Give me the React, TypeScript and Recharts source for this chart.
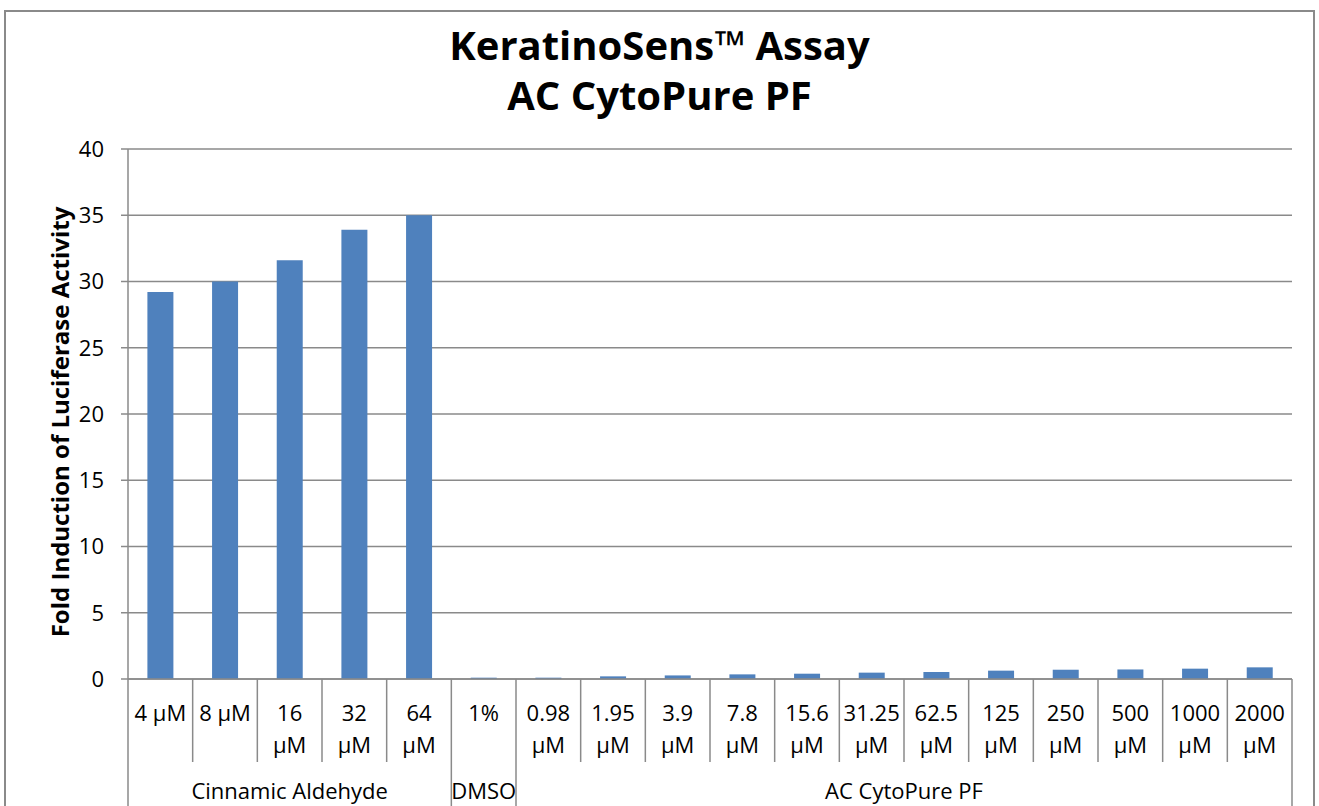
import React from 'react'
import { BarChart, Bar, XAxis, YAxis, CartesianGrid } from 'recharts'

const categories = [
  '4 µM', '8 µM', '16 µM', '32 µM', '64 µM',
  '1%',
  '0.98 µM', '1.95 µM', '3.9 µM', '7.8 µM', '15.6 µM', '31.25 µM',
  '62.5 µM', '125 µM', '250 µM', '500 µM', '1000 µM', '2000 µM',
]
const foldInduction = [
  29.2, 30.0, 31.6, 33.9, 35.0,
  0.1,
  0.1, 0.2, 0.27, 0.35, 0.4, 0.48,
  0.53, 0.63, 0.7, 0.72, 0.78, 0.88,
]
const groupNames = ['Cinnamic Aldehyde', 'DMSO', 'AC CytoPure PF']
const groupSizes = [5, 1, 12]
const yTicks = [0, 5, 10, 15, 20, 25, 30, 35, 40]

const data = categories.map((name, i) => ({ name, value: foldInduction[i] }))

const FONT = '"Open Sans", sans-serif'
const GRAY = '#8a8a8a'

// group start indexes
const groupStarts: number[] = []
groupSizes.reduce((acc, n) => {
  groupStarts.push(acc)
  return acc + n
}, 0)

function CategoryTick(props: any) {
  const { x, y, payload, index, width } = props
  const band = payload && payload.offset ? payload.offset * 2 : width / categories.length
  const left = x - band / 2
  const label: string = payload.value
  const lines = label.length > 4 ? label.split(' ') : [label]
  const gi = groupStarts.indexOf(index)
  const isLast = index === categories.length - 1
  return (
    <g>
      <line x1={left} x2={left} y1={y} y2={gi >= 0 ? y + 140 : y + 83} stroke={GRAY} strokeWidth={1.5} />
      {isLast && <line x1={left + band} x2={left + band} y1={y} y2={y + 140} stroke={GRAY} strokeWidth={1.5} />}
      {lines.map((t, k) => (
        <text key={k} x={x} y={y + 42 + k * 32} textAnchor="middle" fontSize={22} fontFamily={FONT} fill="#000">
          {t}
        </text>
      ))}
      {gi >= 0 && (
        <text x={left + (groupSizes[gi] * band) / 2} y={y + 120} textAnchor="middle" fontSize={22} fontFamily={FONT} fill="#000">
          {groupNames[gi]}
        </text>
      )}
    </g>
  )
}

export default function App() {
  return (
    <div style={{ position: 'absolute', left: 0, top: 0, width: 1319, height: 806, overflow: 'hidden', background: '#fff' }}>
      <div style={{ position: 'absolute', left: 4, top: 10, width: 1307, height: 900, border: `2px solid ${GRAY}` }} />
      <div style={{ position: 'absolute', left: 0, top: 20, width: 1319, textAlign: 'center', fontFamily: FONT, fontWeight: 700, fontSize: 40, lineHeight: '50px', color: '#000' }}>
        <div>KeratinoSens™ Assay</div>
        <div>AC CytoPure PF</div>
      </div>
      <div style={{ position: 'absolute', left: 0, top: 0 }}>
        <BarChart width={1319} height={806} data={data} margin={{ top: 149, right: 27, bottom: 0, left: 0 }} barCategoryGap="30%">
          <CartesianGrid vertical={false} stroke={GRAY} strokeWidth={1.5} />
          <XAxis
            dataKey="name"
            height={127}
            interval={0}
            tickSize={0}
            tickMargin={0}
            tickLine={false}
            axisLine={{ stroke: GRAY, strokeWidth: 1.5 }}
            tick={<CategoryTick />}
          />
          <YAxis
            width={128}
            domain={[0, 40]}
            ticks={yTicks}
            interval={0}
            tickSize={7}
            tickMargin={17}
            axisLine={{ stroke: GRAY, strokeWidth: 1.5 }}
            tickLine={{ stroke: GRAY, strokeWidth: 1.5 }}
            tick={{ fontSize: 22, fontFamily: FONT, fill: '#000' }}
            label={{
              content: () => (
                <text
                  x={69}
                  y={422}
                  transform="rotate(-90, 69, 422)"
                  textAnchor="middle"
                  fontSize={24}
                  fontWeight={700}
                  fontFamily={FONT}
                  fill="#000"
                >
                  Fold Induction of Luciferase Activity
                </text>
              ),
            }}
          />
          <Bar dataKey="value" fill="#4F81BD" isAnimationActive={false} />
        </BarChart>
      </div>
    </div>
  )
}
